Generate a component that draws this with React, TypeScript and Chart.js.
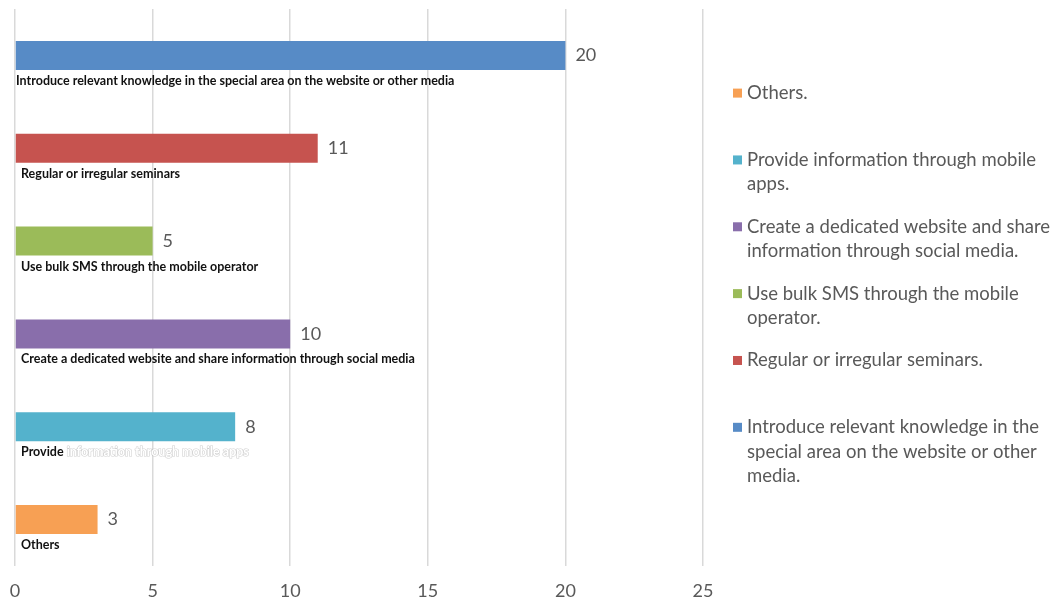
import React, { useEffect, useRef } from "react";
import { Chart, registerables } from "chart.js";

Chart.register(...registerables);

const categories = [
  "Introduce relevant knowledge in the special area on the website or other media",
  "Regular or irregular seminars",
  "Use bulk SMS through the mobile operator",
  "Create a dedicated website and share information through social media",
  "Provide information through mobile apps",
  "Others",
];
const values = [20, 11, 5, 10, 8, 3];
const legendLabels = [
  "Introduce relevant knowledge in the special area on the website or other media.",
  "Regular or irregular seminars.",
  "Use bulk SMS through the mobile operator.",
  "Create a dedicated website and share information through social media.",
  "Provide information through mobile apps.",
  "Others.",
];
const barColors = ["#578bc6", "#c6534f", "#9bbb59", "#896eab", "#54b2cc", "#f7a054"];
const xMin = 0;
const xMax = 25;
const xStep = 5;
const fadedLabelIndex = 4; // this label's tail is printed in white in the original

const FONT = "Lato, 'Open Sans', sans-serif";
const TEXT = "#595959";

function wrap(ctx: CanvasRenderingContext2D, text: string, maxW: number): string[] {
  const words = text.split(" ");
  const lines: string[] = [];
  let cur = "";
  for (const w of words) {
    const t = cur ? cur + " " + w : w;
    if (ctx.measureText(t).width > maxW && cur) {
      lines.push(cur);
      cur = w;
    } else cur = t;
  }
  if (cur) lines.push(cur);
  return lines;
}

const overlay = {
  id: "overlay",
  afterDatasetsDraw(chart: any) {
    const ctx: CanvasRenderingContext2D = chart.ctx;
    const meta = chart.getDatasetMeta(0);
    const area = chart.chartArea;
    ctx.save();
    meta.data.forEach((bar: any, i: number) => {
      const { x, y, height } = bar.getProps(["x", "y", "height"], true);
      ctx.font = `18px ${FONT}`;
      ctx.fillStyle = TEXT;
      ctx.textAlign = "left";
      ctx.textBaseline = "middle";
      ctx.fillText(String(values[i]), x + 10, y);

      ctx.font = `bold 12.5px ${FONT}`;
      ctx.textBaseline = "middle";
      const ly = y + height / 2 + 11;
      const lx = area.left + (i === 0 ? 1 : 6);
      const label = categories[i];
      if (i === fadedLabelIndex) {
        const sp = label.indexOf(" ");
        const head = label.slice(0, sp);
        const tail = label.slice(sp);
        ctx.fillStyle = "#111";
        ctx.fillText(head, lx, ly);
        const w = ctx.measureText(head).width;
        ctx.lineWidth = 1.2;
        ctx.strokeStyle = "rgba(150,150,150,0.45)";
        ctx.strokeText(tail, lx + w, ly);
        ctx.fillStyle = "#ffffff";
        ctx.fillText(tail, lx + w, ly);
      } else {
        ctx.fillStyle = "#111";
        ctx.fillText(label, lx, ly);
      }
    });
    ctx.restore();
  },
  afterDraw(chart: any) {
    const ctx: CanvasRenderingContext2D = chart.ctx;
    const area = chart.chartArea;
    const h = area.bottom - area.top;
    const markerX = area.right + 30;
    const textX = markerX + 14;
    const maxW = chart.width - textX - 1;
    const lineH = 24.5;
    ctx.save();
    ctx.font = `18.5px ${FONT}`;
    ctx.textAlign = "left";
    ctx.textBaseline = "middle";
    const order = legendLabels.map((_, i) => i).reverse();
    order.forEach((idx, k) => {
      const y0 = area.top + h * 0.151 + k * h * 0.12;
      ctx.fillStyle = barColors[idx];
      ctx.fillRect(markerX, y0 - 4.5, 9, 9);
      ctx.fillStyle = TEXT;
      const lines = wrap(ctx, legendLabels[idx], maxW);
      lines.forEach((ln, j) => ctx.fillText(ln, textX, y0 + j * lineH));
    });
    ctx.restore();
  },
};

export default function App() {
  const ref = useRef<HTMLCanvasElement | null>(null);
  useEffect(() => {
    if (!ref.current) return;
    const chart = new Chart(ref.current, {
      type: "bar",
      data: {
        labels: categories,
        datasets: [
          {
            data: values,
            backgroundColor: barColors,
            borderWidth: 0,
            categoryPercentage: 1,
            barPercentage: 0.312,
          },
        ],
      },
      options: {
        indexAxis: "y",
        responsive: false,
        animation: false,
        layout: { padding: { left: 15, right: 354, top: 9, bottom: 0 } },
        plugins: { legend: { display: false }, tooltip: { enabled: false } },
        scales: {
          x: {
            min: xMin,
            max: xMax,
            ticks: { stepSize: xStep, color: TEXT, font: { family: FONT, size: 18 }, padding: 14 },
            grid: { color: "#d9d9d9", lineWidth: 1.5, drawTicks: false },
            border: { display: false },
            afterFit: (s: any) => {
              s.height = 37;
              s.paddingLeft = 0;
              s.paddingRight = 0;
            },
          },
          y: { display: false },
        },
      },
      plugins: [overlay],
    });
    return () => chart.destroy();
  }, []);
  return (
    <div style={{ position: "fixed", left: 0, top: 0, width: 1057, height: 603, background: "#fff" }}>
      <canvas ref={ref} width={1057} height={603} style={{ width: 1057, height: 603 }} />
    </div>
  );
}
